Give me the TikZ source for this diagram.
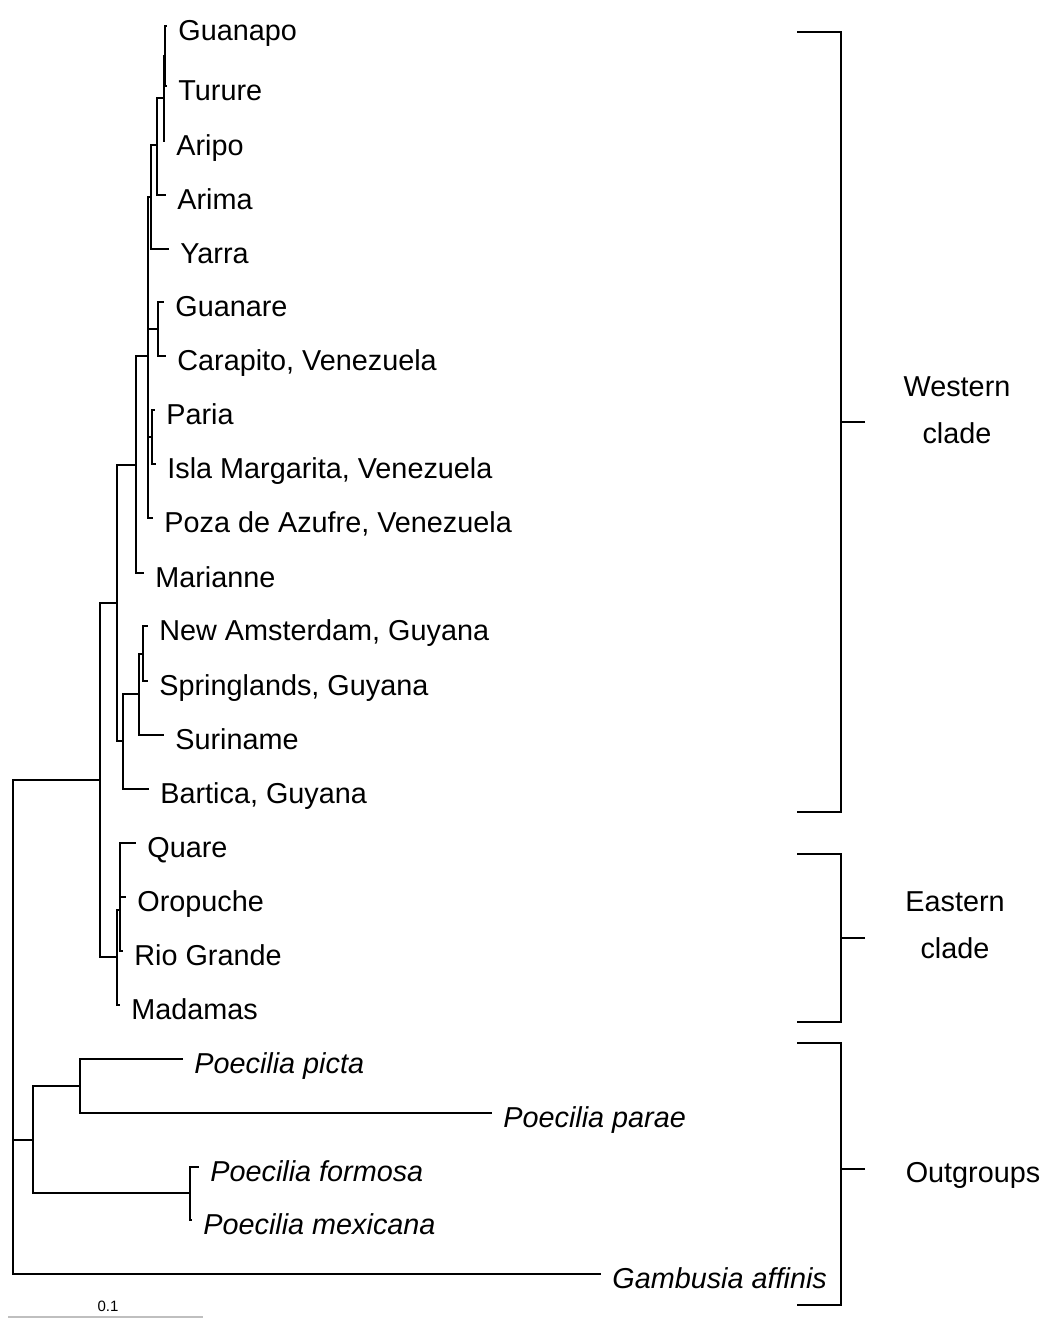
\documentclass[tikz,border=0pt]{standalone}
\usepackage{fontspec}
\setsansfont{Liberation Sans}
\tikzset{every picture/.style={/utils/exec={\sffamily}}}
\usetikzlibrary{calc}
\usetikzlibrary{positioning}

\tikzset{
  taxon/.style={anchor=west, inner xsep=6pt, inner ysep=0pt, text height=14pt, text depth=0pt, font=\fontsize{14.4}{17}\selectfont},
  species/.style={taxon, font=\fontsize{14.4}{17}\selectfont\itshape},
  branch/.style={line width=1pt, line cap=rect},
  bracket/.style={line width=1pt},
  cladename/.style={align=center, inner sep=0pt, font=\fontsize{14.4}{23.5}\selectfont},
}

\begin{document}
\begin{tikzpicture}[x=0.5pt, y=-0.5pt]
  \useasboundingbox (0,0) rectangle (1048,1318);

  % taxa
  \node [taxon] (guanapo)   at (166, 26)  {Guanapo};
  \node [taxon] (turure)    at (166, 86)  {Turure};
  \node [taxon] (aripo)     at (164, 141) {Aripo};
  \node [taxon] (arima)     at (165, 195) {Arima};
  \node [taxon] (yarra)     at (168, 249) {Yarra};
  \node [taxon] (guanare)   at (163, 302) {Guanare};
  \node [taxon] (carapito)  at (165, 356) {Carapito, Venezuela};
  \node [taxon] (paria)     at (154, 410) {Paria};
  \node [taxon] (isla)      at (155, 464) {Isla Margarita, Venezuela};
  \node [taxon] (poza)      at (152, 518) {Poza de Azufre, Venezuela};
  \node [taxon] (marianne)  at (143, 573) {Marianne};
  \node [taxon] (newam)     at (147, 626) {New Amsterdam, Guyana};
  \node [taxon] (springl)   at (147, 681) {Springlands, Guyana};
  \node [taxon] (suriname)  at (163, 735) {Suriname};
  \node [taxon] (bartica)   at (148, 789) {Bartica, Guyana};
  \node [taxon] (quare)     at (135, 843) {Quare};
  \node [taxon] (oropuche)  at (125, 897) {Oropuche};
  \node [taxon] (riogrande) at (122, 951) {Rio Grande};
  \node [taxon] (madamas)   at (119, 1005) {Madamas};
  \node [species] (picta)    at (182, 1059) {Poecilia picta};
  \node [species] (parae)    at (491, 1113) {Poecilia parae};
  \node [species] (formosa)  at (198, 1167) {Poecilia formosa};
  \node [species] (mexicana) at (191, 1220) {Poecilia mexicana};
  \node [species] (gambusia) at (600, 1274) {Gambusia affinis};

  % internal nodes
  \coordinate (gt)   at (165, 56);
  \coordinate (gta)  at (164, 98);
  \coordinate (a1)   at (157, 145);
  \coordinate (a2)   at (151, 197);
  \coordinate (gc)   at (158, 329);
  \coordinate (pim)  at (152, 437);
  \coordinate (w2)   at (148, 356);
  \coordinate (wm)   at (136, 465);
  \coordinate (ns)   at (143, 654);
  \coordinate (nss)  at (139, 694);
  \coordinate (gy)   at (123, 741);
  \coordinate (wcl)  at (117, 603);
  \coordinate (e2)   at (120, 910);
  \coordinate (ecl)  at (117, 957);
  \coordinate (ingr) at (100, 780);
  \coordinate (pp)   at (80, 1086);
  \coordinate (fm)   at (190, 1193);
  \coordinate (outg) at (33, 1140);
  \coordinate (root) at (13, 1027);

  \draw [branch] (gt) |- (guanapo.west) (gt) |- (turure.west);
  \draw [branch] (gta) |- (gt) (gta) |- (aripo.west);
  \draw [branch] (a1) |- (gta) (a1) |- (arima.west);
  \draw [branch] (a2) |- (a1) (a2) |- (yarra.west);
  \draw [branch] (gc) |- (guanare.west) (gc) |- (carapito.west);
  \draw [branch] (pim) |- (paria.west) (pim) |- (isla.west);
  \draw [branch] (w2) |- (a2) (w2) |- (gc) (w2) |- (pim) (w2) |- (poza.west);
  \draw [branch] (wm) |- (w2) (wm) |- (marianne.west);
  \draw [branch] (ns) |- (newam.west) (ns) |- (springl.west);
  \draw [branch] (nss) |- (ns) (nss) |- (suriname.west);
  \draw [branch] (gy) |- (nss) (gy) |- (bartica.west);
  \draw [branch] (wcl) |- (wm) (wcl) |- (gy);
  \draw [branch] (e2) |- (quare.west) (e2) |- (oropuche.west) (e2) |- (riogrande.west);
  \draw [branch] (ecl) |- (e2) (ecl) |- (madamas.west);
  \draw [branch] (ingr) |- (wcl) (ingr) |- (ecl);
  \draw [branch] (pp) |- (picta.west) (pp) |- (parae.west);
  \draw [branch] (fm) |- (formosa.west) (fm) |- (mexicana.west);
  \draw [branch] (outg) |- (pp) (outg) |- (fm);
  \draw [branch] (root) |- (ingr) (root) |- (outg) (root) |- (gambusia.west);

  % clade brackets
  \coordinate (wtop) at (797, 32);
  \coordinate (wbot) at (797, 812);
  \coordinate (wtick) at (865, 422);
  \coordinate (etop) at (797, 854);
  \coordinate (ebot) at (797, 1022);
  \coordinate (etick) at (865, 938);
  \coordinate (otop) at (797, 1043);
  \coordinate (obot) at (797, 1305);
  \coordinate (otick) at (865, 1169);

  \draw [bracket] (wtop) -- ++(44,0) |- (wbot);
  \draw [bracket] (wtick) -- ++(-24,0);
  \draw [bracket] (etop) -- ++(44,0) |- (ebot);
  \draw [bracket] (etick) -- ++(-24,0);
  \draw [bracket] (otop) -- ++(44,0) |- (obot);
  \draw [bracket] (otick) -- ++(-24,0);

  \node [cladename] (wlab) at (957, 410) {Western\\clade};
  \node [cladename] (elab) at (955, 925) {Eastern\\clade};
  \node [cladename] (olab) at (973, 1175) {Outgroups};

  % scale bar
  \coordinate (sb1) at (8, 1317);
  \coordinate (sb2) at (203, 1317);
  \draw [line width=1pt, gray!50] (sb1) -- (sb2);
  \node [font=\fontsize{7.5}{9}\selectfont, inner sep=0pt] (sblab) at (108, 1306) {0.1};
\end{tikzpicture}
\end{document}
